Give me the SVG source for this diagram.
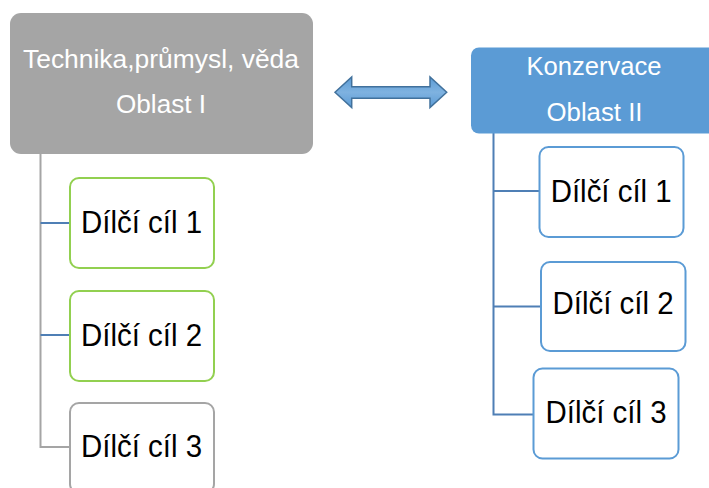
<svg xmlns="http://www.w3.org/2000/svg" width="709" height="488" viewBox="0 0 709 488">
<style>
.hdr{font-family:"Liberation Sans",Arial,sans-serif;font-size:25px;fill:#ffffff;text-anchor:middle}
.lbl{font-family:"Liberation Sans",Arial,sans-serif;font-size:31px;fill:#000000;text-anchor:middle}
.green{fill:#ffffff;stroke:#92d050;stroke-width:2}
.gray{fill:#ffffff;stroke:#a5a5a5;stroke-width:2}
.blue{fill:#ffffff;stroke:#5b9bd5;stroke-width:2}
.cg{fill:none;stroke:#a5a5a5;stroke-width:2}
.cb{fill:none;stroke:#4f7fb5;stroke-width:2}
</style>
<defs>
<linearGradient id="ag" x1="0" y1="0" x2="0" y2="1">
<stop offset="0" stop-color="#5b9bd5"/>
<stop offset="0.5" stop-color="#7fb2e0"/>
<stop offset="1" stop-color="#5b9bd5"/>
</linearGradient>
</defs>
<rect width="709" height="488" fill="#ffffff"/>
<g id="connectors">
<polyline class="cg" points="40.5,154 40.5,447 70,447"/>
<line class="cb" x1="40.5" y1="223" x2="70" y2="223"/>
<line class="cb" x1="40.5" y1="335" x2="70" y2="335"/>
<polyline class="cb" points="493.5,133 493.5,414.5 533,414.5"/>
<line class="cb" x1="493.5" y1="191" x2="539" y2="191"/>
<line class="cb" x1="493.5" y1="306.5" x2="541" y2="306.5"/>
<path id="double-arrow" d="M335,92.3 L351.7,77 L351.7,86.7 L430,86.7 L430,77 L446.7,92.3 L430,107.5 L430,98.3 L351.7,98.3 L351.7,107.5 Z" fill="url(#ag)" stroke="#41719c" stroke-width="1.5"/>
</g>
<g id="area1">
<rect x="10" y="13" width="303" height="141" rx="11" fill="#a5a5a5"/>
<text class="hdr" x="161" y="68" textLength="276" lengthAdjust="spacingAndGlyphs">Technika,průmysl, věda</text>
<text class="hdr" x="161" y="113" textLength="90" lengthAdjust="spacingAndGlyphs">Oblast I</text>
</g>
<g id="area2">
<rect x="471" y="47.5" width="250" height="86" rx="8" fill="#5b9bd5"/>
<text class="hdr" x="594" y="75" textLength="135" lengthAdjust="spacingAndGlyphs">Konzervace</text>
<text class="hdr" x="594.5" y="121" textLength="96" lengthAdjust="spacingAndGlyphs">Oblast II</text>
</g>
<g id="a1-goal1">
<rect class="green" x="70" y="178" width="144" height="90" rx="9"/>
<text class="lbl" x="141.5" y="233" textLength="121" lengthAdjust="spacingAndGlyphs">Dílčí cíl 1</text>
</g>
<g id="a1-goal2">
<rect class="green" x="70" y="291" width="144" height="90" rx="9"/>
<text class="lbl" x="141.5" y="345.5" textLength="121" lengthAdjust="spacingAndGlyphs">Dílčí cíl 2</text>
</g>
<g id="a1-goal3">
<rect class="gray" x="70" y="403" width="144" height="90" rx="9"/>
<text class="lbl" x="141.5" y="457" textLength="121" lengthAdjust="spacingAndGlyphs">Dílčí cíl 3</text>
</g>
<g id="a2-goal1">
<rect class="blue" x="539.5" y="147" width="144" height="90" rx="9"/>
<text class="lbl" x="611.2" y="201.7" textLength="121" lengthAdjust="spacingAndGlyphs">Dílčí cíl 1</text>
</g>
<g id="a2-goal2">
<rect class="blue" x="541" y="262" width="144.5" height="89" rx="9"/>
<text class="lbl" x="613" y="314" textLength="121" lengthAdjust="spacingAndGlyphs">Dílčí cíl 2</text>
</g>
<g id="a2-goal3">
<rect class="blue" x="533.5" y="368.5" width="145" height="90" rx="9"/>
<text class="lbl" x="606" y="423" textLength="121" lengthAdjust="spacingAndGlyphs">Dílčí cíl 3</text>
</g>
</svg>
